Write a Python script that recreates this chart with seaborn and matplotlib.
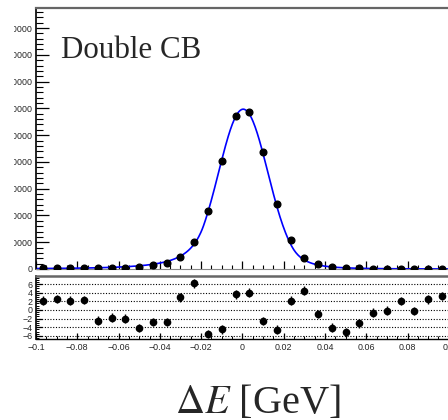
import numpy as np
import pandas as pd
import matplotlib
matplotlib.use("Agg")
import matplotlib.pyplot as plt
from matplotlib.ticker import MultipleLocator, FuncFormatter
from matplotlib.transforms import Bbox, TransformedBbox
import seaborn as sns

# ---- binned Delta E distribution (30 bins over [-0.1, 0.1] GeV) ----
x_low, x_high, n_bins = -0.1, 0.1, 30
counts = [210, 230, 250, 290, 300, 400, 520, 700, 1350, 2250,
          4600, 10100, 21700, 40200, 57000, 58500, 43600, 24400, 10700, 4100,
          1700, 600, 300, 230, 160, 130, 120, 100, 95, 85]
pulls = [2.15, 2.54, 2.15, 2.3, -2.47, -1.78, -2.0, -4.16, -2.77, -2.77,
         2.93, 6.17, -5.54, -4.46, 3.63, 4.0, -2.54, -4.55, 2.15, 4.46,
         -0.92, -4.09, -5.15, -3.07, -0.62, -0.16, 2.08, -0.23, 2.47, 3.23]

# ---- double Crystal Ball fit parameters ----
peak_height = 59700.0
mu, sigma = 0.0004, 0.0119
alpha_l, n_l = 1.6, 3.0
alpha_r, n_r = 2.0, 4.0

pull_ticks = [-6, -4, -2, 0, 2, 4, 6]


def double_cb(x):
    t = (x - mu) / sigma
    out = np.exp(-0.5 * t ** 2)
    a_l = (n_l / alpha_l) ** n_l * np.exp(-0.5 * alpha_l ** 2)
    b_l = n_l / alpha_l - alpha_l
    a_r = (n_r / alpha_r) ** n_r * np.exp(-0.5 * alpha_r ** 2)
    b_r = n_r / alpha_r - alpha_r
    lo = t < -alpha_l
    hi = t > alpha_r
    out[lo] = a_l * (b_l - t[lo]) ** (-n_l)
    out[hi] = a_r * (b_r + t[hi]) ** (-n_r)
    return out


edges = np.linspace(x_low, x_high, n_bins + 1)
centers = 0.5 * (edges[:-1] + edges[1:])
data = pd.DataFrame({"dE": centers, "n": counts, "pull": pulls})
xs = np.linspace(x_low, x_high, 600)
fit = pd.DataFrame({"dE": xs, "f": peak_height * double_cb(xs)})

sns.set_style("ticks")
plt.rcParams["font.family"] = ["Liberation Sans", "DejaVu Sans"]
plt.rcParams["mathtext.fontset"] = "stix"
plt.rcParams["axes.unicode_minus"] = True

W, H = 448, 420
fig = plt.figure(figsize=(W / 100, H / 100), dpi=100)
ax = fig.add_axes([36 / W, 1 - 269 / H, 412.8 / W, 261 / H])
axr = fig.add_axes([36 / W, 1 - 339 / H, 412.8 / W, 63 / H])

# ---- main panel ----
sns.lineplot(data=fit, x="dE", y="f", ax=ax, color="#0000ff", lw=1.2, zorder=2)
ax.errorbar(data["dE"], data["n"], yerr=np.sqrt(data["n"]), fmt="o", ms=4.8,
            color="k", elinewidth=1, capsize=0, zorder=3)
ax.set_xlim(x_low, x_high)
ax.set_ylim(0, 97500)
ax.set_xlabel("")
ax.set_ylabel("")
ax.xaxis.set_major_locator(MultipleLocator(0.02))
ax.xaxis.set_minor_locator(MultipleLocator(0.005))
ax.yaxis.set_major_locator(MultipleLocator(10000))
ax.yaxis.set_minor_locator(MultipleLocator(2000))
ax.yaxis.set_major_formatter(FuncFormatter(lambda v, p: f"{int(round(v))}"))
ax.tick_params(axis="both", which="both", direction="in", color="k")
ax.tick_params(axis="y", which="major", length=9.4, width=0.9, labelsize=6.4, pad=2.5)
ax.tick_params(axis="y", which="minor", length=5, width=0.8)
ax.tick_params(axis="x", which="major", length=5.5, width=0.9, labelbottom=False)
ax.tick_params(axis="x", which="minor", length=3, width=0.8)
ax.spines["left"].set_color("k")
ax.spines["left"].set_linewidth(1.2)
ax.spines["top"].set_color("#666666")
ax.spines["top"].set_linewidth(1.6)
ax.spines["bottom"].set_color("#888888")
ax.spines["bottom"].set_linewidth(0.8)
ax.spines["right"].set_visible(False)

# ---- pull panel ----
axr.errorbar(data["dE"], data["pull"], yerr=1.0, fmt="o", ms=4.5,
             color="k", elinewidth=1, capsize=0, zorder=3)
axr.set_xlim(x_low, x_high)
axr.set_ylim(-6.7, 7.85)
axr.set_yticks(pull_ticks)
axr.yaxis.set_minor_locator(MultipleLocator(0.5))
axr.yaxis.grid(True, which="major", ls=(0, (1, 1.5)), color="k", lw=0.8)
axr.xaxis.set_major_locator(MultipleLocator(0.02))
axr.xaxis.set_minor_locator(MultipleLocator(0.005))
axr.xaxis.set_major_formatter(
    FuncFormatter(lambda v, p: "0" if abs(v) < 1e-9 else f"{v:g}".replace("-", "\u2212")))
axr.yaxis.set_major_formatter(
    FuncFormatter(lambda v, p: f"{int(v)}".replace("-", "\u2212")))
axr.tick_params(axis="both", which="both", direction="in", color="k")
axr.tick_params(axis="y", which="major", length=4, width=0.9, labelsize=6.4, pad=2.5)
axr.tick_params(axis="y", which="minor", length=2.2, width=0.7)
axr.tick_params(axis="x", which="major", length=4.5, width=0.9, labelsize=6.4, pad=3)
axr.tick_params(axis="x", which="minor", length=2.5, width=0.7)
axr.spines["left"].set_color("k")
axr.spines["left"].set_linewidth(1.2)
axr.spines["bottom"].set_color("k")
axr.spines["bottom"].set_linewidth(1.0)
axr.spines["top"].set_color("#666666")
axr.spines["top"].set_linewidth(1.8)
axr.spines["right"].set_visible(False)

# ---- texts ----
fig.text(61 / W, 1 - 58.3 / H, "Double CB", fontsize=22.3,
         family="Liberation Serif", va="baseline", ha="left")
fig.text(175 / W, 1 - 413 / H, r"$\Delta E$ [GeV]", fontsize=29,
         family="Liberation Serif", va="baseline", ha="left")

# the count labels sit in a narrow pad margin: clip them at its left edge
fig.canvas.draw()
margin = TransformedBbox(Bbox([[13.8 / W, 0.3], [1.0, 1.0]]), fig.transFigure)
for lab in ax.get_yticklabels():
    lab.set_clip_on(True)
    lab.set_clip_box(margin)

fig.savefig("out.png", dpi=100)
